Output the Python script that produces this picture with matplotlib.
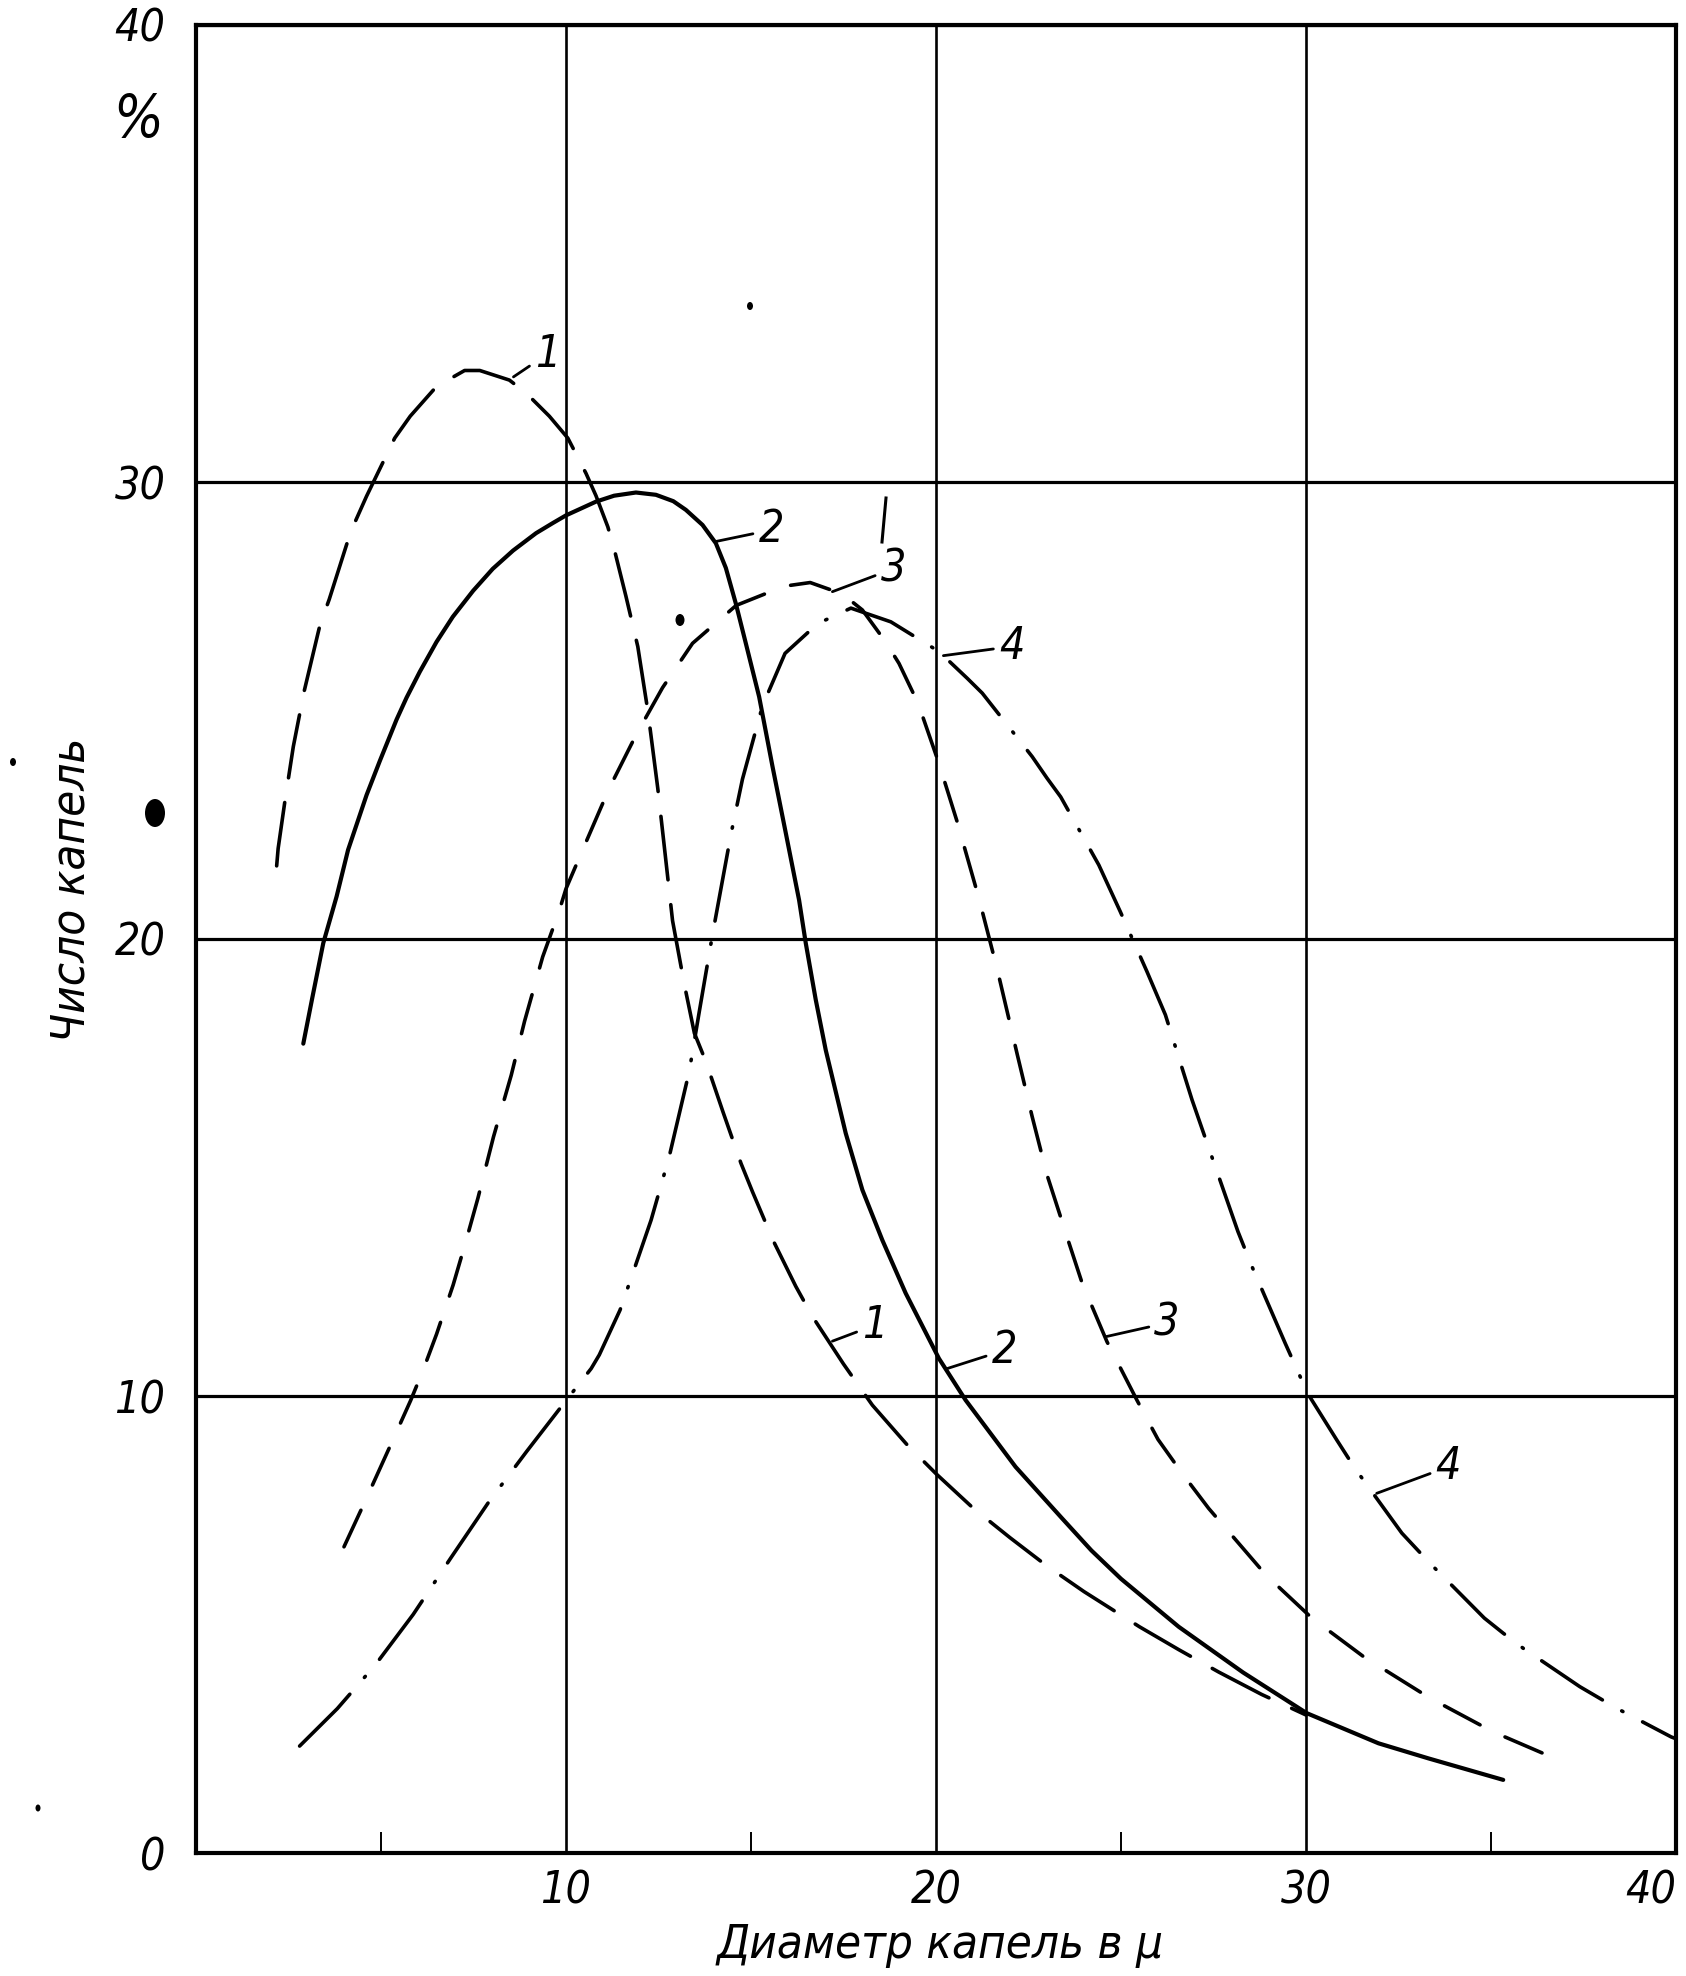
import matplotlib
matplotlib.use("Agg")
import matplotlib.pyplot as plt
from matplotlib.patches import Ellipse
from matplotlib.lines import Line2D

# ---------------- data ----------------
c1_x = [2.18, 2.22, 2.40, 2.63, 2.92, 3.35, 3.60, 4.18, 4.61, 5.37, 5.79, 6.50, 7.26,
        7.67, 8.47, 8.93, 9.55, 10.05, 10.54, 10.81, 11.13, 11.31, 11.62, 11.94, 12.21,
        12.48, 12.66, 12.88, 13.20, 13.47, 13.78, 14.25, 14.73, 15.04, 15.60, 16.21,
        16.66, 17.50, 18.28, 19.20, 20.00, 21.00, 22.00, 23.00, 24.00, 25.50, 26.56,
        27.64, 28.80, 30.00]
c1_y = [21.60, 21.98, 23.00, 24.21, 25.41, 26.87, 27.43, 28.91, 29.69, 30.96, 31.44,
        32.09, 32.44, 32.44, 32.23, 31.94, 31.44, 30.96, 30.19, 29.70, 29.02, 28.51,
        27.50, 26.40, 25.00, 23.30, 22.00, 20.40, 19.00, 17.94, 17.32, 16.20, 15.09,
        14.47, 13.40, 12.40, 11.74, 10.70, 9.80, 8.95, 8.30, 7.55, 6.90, 6.28, 5.72,
        4.95, 4.45, 3.96, 3.47, 3.02]

c2_x = [2.90, 3.14, 3.44, 3.80, 4.11, 4.61, 4.97, 5.42, 5.69, 6.05, 6.50, 6.94, 7.49,
        8.02, 8.57, 9.19, 9.64, 10.00, 10.81, 11.30, 11.89, 12.43, 12.90, 13.24, 13.69,
        14.05, 14.32, 14.59, 14.86, 15.22, 15.58, 15.94, 16.30, 16.48, 16.75, 17.02,
        17.56, 18.01, 18.55, 19.18, 20.08, 20.80, 22.15, 23.41, 24.20, 25.00, 26.56,
        28.30, 30.02, 31.96, 33.31, 35.33]
c2_y = [17.71, 18.70, 19.91, 20.93, 21.95, 23.15, 23.90, 24.80, 25.28, 25.85, 26.50,
        27.05, 27.62, 28.10, 28.50, 28.88, 29.10, 29.27, 29.57, 29.70, 29.77, 29.72,
        29.58, 29.39, 29.06, 28.66, 28.12, 27.34, 26.47, 25.30, 23.78, 22.32, 20.85,
        19.91, 18.67, 17.57, 15.75, 14.51, 13.41, 12.25, 10.82, 9.91, 8.45, 7.32, 6.62,
        6.00, 4.95, 3.95, 3.06, 2.40, 2.07, 1.60]

c3_x = [4.00, 4.60, 5.30, 5.80, 6.14, 6.50, 6.95, 7.30, 7.62, 8.04, 8.52, 8.88, 9.37,
        9.81, 10.00, 10.45, 11.17, 11.89, 12.61, 13.42, 14.60, 15.90, 16.60, 17.47,
        18.01, 18.64, 19.00, 19.52, 20.08, 20.57, 21.16, 21.66, 22.20, 22.60, 23.00,
        23.57, 23.95, 24.62, 25.43, 26.00, 26.65, 27.37, 28.92, 30.16, 31.55, 33.35,
        35.06, 37.04]
c3_y = [6.70, 7.75, 9.00, 9.90, 10.57, 11.35, 12.43, 13.40, 14.33, 15.67, 17.02, 18.20,
        19.61, 20.60, 21.10, 21.95, 23.30, 24.46, 25.50, 26.47, 27.30, 27.72, 27.80,
        27.55, 27.20, 26.50, 26.03, 25.15, 23.84, 22.57, 20.89, 19.32, 17.46, 16.11,
        14.84, 13.41, 12.47, 11.19, 9.91, 9.05, 8.31, 7.54, 6.08, 5.14, 4.30, 3.39,
        2.65, 1.96]

c4_x = [2.80, 3.82, 4.85, 5.87, 6.89, 7.92, 8.94, 10.00, 10.68, 10.90, 11.46, 11.85,
        12.30, 12.79, 13.33, 13.60, 13.96, 14.46, 14.77, 15.31, 15.92, 16.80, 17.70,
        18.78, 20.08, 20.85, 21.25, 22.60, 23.00, 23.37, 24.40, 24.98, 25.70, 26.20,
        26.92, 27.28, 28.16, 28.52, 29.44, 30.05, 30.83, 31.17, 31.49, 32.59, 33.35,
        34.82, 35.33, 35.87, 37.40, 38.39, 39.87, 40.00]
c4_y = [2.34, 3.16, 4.12, 5.22, 6.46, 7.69, 8.79, 9.90, 10.60, 10.90, 11.88, 12.79,
        13.85, 15.24, 17.10, 18.40, 20.10, 22.30, 23.50, 25.10, 26.25, 26.90, 27.24,
        26.94, 26.29, 25.70, 25.38, 23.99, 23.52, 23.11, 21.62, 20.60, 19.29, 18.34,
        16.48, 15.64, 13.60, 12.87, 11.15, 10.05, 9.04, 8.61, 8.23, 7.00, 6.34, 5.14,
        4.81, 4.48, 3.64, 3.17, 2.54, 2.50]

x_ticks = [10, 20, 30, 40]
x_minor = [5, 15, 25, 35]
y_ticks = [0, 10, 20, 30, 40]

# ---------------- style ----------------
plt.rcParams["font.family"] = ["DejaVu Sans"]
plt.rcParams["font.style"] = "italic"
plt.rcParams["font.stretch"] = "condensed"
plt.rcParams["lines.scale_dashes"] = False

W, H = 1686, 1976
fig = plt.figure(figsize=(W / 100, H / 100), dpi=100)
ax = fig.add_axes([196 / W, 1 - 1853 / H, (1676 - 196) / W, (1853 - 25) / H])
ax.set_xlim(0, 40)
ax.set_ylim(0, 40)

lw = 2.6
ax.plot(c1_x, c1_y, color="black", lw=lw, dashes=(46, 18), dash_capstyle="round")
ax.plot(c2_x, c2_y, color="black", lw=lw + 0.4, solid_capstyle="round")
ax.plot(c3_x, c3_y, color="black", lw=lw, dashes=(29, 20), dash_capstyle="round")
ax.plot(c4_x, c4_y, color="black", lw=lw, dashes=(52, 16, 1, 16), dash_capstyle="round")

# grid and spines
ax.set_xticks(x_ticks)
ax.set_yticks(y_ticks)
ax.set_xticks(x_minor, minor=True)
ax.xaxis.grid(True, which="major", color="black", lw=1.9)
ax.yaxis.grid(True, which="major", color="black", lw=2.3)
for s in ax.spines.values():
    s.set_linewidth(3.0)
ax.tick_params(which="major", length=0, labelsize=32, pad=12)
ax.tick_params(axis="y", which="major", pad=22)
ax.tick_params(which="minor", direction="in", length=15, width=1.4)
ax.set_xticklabels([str(v) for v in x_ticks])
ax.set_yticklabels([str(v) for v in y_ticks])
ax.get_xticklabels()[-1].set_horizontalalignment("right")

# percent sign
ax.text(-1.57, 37.9, "%", fontsize=42, ha="center", va="center", clip_on=False)

# axis titles
fig.text(72 / W, 1 - 890 / H, "Число капель", rotation=90, fontsize=34,
         ha="center", va="center")
fig.text(940 / W, 1 - 1945 / H, "Диаметр капель в μ", fontsize=34,
         ha="center", va="center")

# curve labels with leader lines
label_pos = [
    ("1", (8.58, 32.3), (9.15, 32.8)),
    ("2", (14.06, 28.7), (15.2, 28.95)),
    ("3", (17.2, 27.6), (18.5, 28.1)),
    ("4", (20.2, 26.2), (21.7, 26.4)),
    ("1", (17.2, 11.2), (18.0, 11.55)),
    ("2", (20.3, 10.6), (21.5, 11.0)),
    ("3", (24.6, 11.3), (25.9, 11.6)),
    ("4", (31.91, 7.87), (33.5, 8.45)),
]
for txt, xy, xyt in label_pos:
    ax.annotate(txt, xy=xy, xytext=xyt, fontsize=32, ha="left", va="center",
                arrowprops=dict(arrowstyle="-", lw=2.0, color="black",
                                shrinkA=2, shrinkB=0))

# specks and a stray stroke of the printed original (figure pixels)
specks = [(155, 813, 20, 28), (750, 306, 6, 8), (680, 620, 9, 12),
          (13, 762, 6, 8), (38, 1808, 5, 7)]
for sx, sy, sw, sh in specks:
    fig.add_artist(Ellipse((sx / W, 1 - sy / H), sw / W, sh / H,
                           transform=fig.transFigure, color="black", lw=0))
stroke = ([886 / W, 882 / W], [1 - 498 / H, 1 - 542 / H])
fig.add_artist(Line2D(stroke[0], stroke[1], transform=fig.transFigure,
                      color="black", lw=2.2))

fig.savefig("out.png", dpi=100, facecolor="white")
